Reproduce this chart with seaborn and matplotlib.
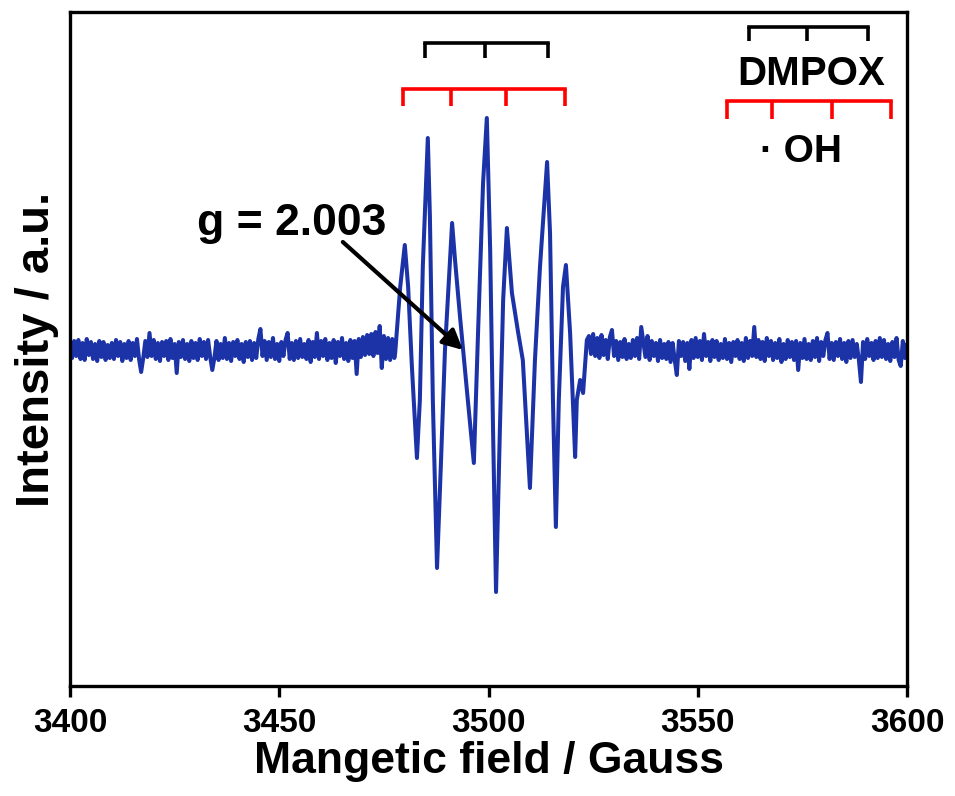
import numpy as np
import pandas as pd
import matplotlib
matplotlib.use('Agg')
import matplotlib.pyplot as plt
import seaborn as sns

step = 0.5
left_start = 3400.0
left_noise = [4, -8, 9, -6, 10, -9, 7, -10, 11, -5, 8, -9, 6, -11, 9, -7, 8, -10, 5, -8,
              7, -9, 10, -6, 8, -11, 6, -8, 9, -10, 7, -6, 11, -9, -22, -8, 9, -7, 17, -6,
              10, -9, 7, -11, 8, -6, 9, -10, 11, -8, 6, -23, 8, -7, 10, -9, 6, -11, 9, -8,
              7, -10, 11, -6, 8, -9, 10, -7, -20, -8, 9, -10, 6, -8, 12, -9, 7, -11, 8, -6,
              10, -9, 6, -12, 8, -7, 9, -10, 7, -8, 11, 21, -6, 9, -10, 8, -7, 12, -9, 6,
              -11, 8, -6, 10, 17, -9, 7, -10, 9, -8, 11, -7, 6, -9, 10, -12, 8, -7, 17, -9,
              9, -6, 11, -10, 7, -8, 10, -13, 8, -6, 12, -9, 7, -11, 10, -8, 9, -24, 11, -7,
              13, -5, 15, -4, 16, -6, 18, -3, 24, -18, 14, -9, 12, -10, 11, -8]

# the DMPOX / DMPO-OH signal region
signal_field = [3477.7, 3478.9, 3480.0, 3480.8, 3481.7, 3482.9, 3483.6, 3484.3, 3485.5,
                3486.0, 3486.7, 3487.7, 3488.6, 3489.6, 3491.3, 3492.0, 3493.2, 3494.9,
                3496.5, 3497.5, 3498.7, 3499.6, 3500.4, 3501.1, 3501.8, 3502.7, 3503.5,
                3504.4, 3505.6, 3507.1, 3508.2, 3509.9, 3511.1, 3512.3, 3514.0, 3514.7,
                3515.4, 3516.1, 3516.8, 3517.8, 3518.5, 3519.5, 3520.7, 3521.1, 3521.9,
                3522.6, 3523.5]
signal_int = [-3, 63, 105, 63, -17, -108, -50, 83, 212,
              133, -50, -218, -117, 0, 127, 90, 33, -43,
              -113, 17, 167, 232, 100, -83, -242, -83, 50,
              122, 57, 17, -10, -138, -10, 83, 188, 117,
              -50, -177, -50, 63, 85, 17, -107, -50, -30,
              -43, 10]

right_start = 3524.0
right_noise = [14, -4, 16, -6, 12, -8, 15, -5, 10, -9, 13, 20, -6, 9, -10, 8, -7, 11, -9, 6,
               -8, 10, -6, 12, -9, 23, 8, -7, 14, -10, 9, -6, 7, -11, 10, -8, 6, -9, 8, -12,
               7, -10, -25, 9, -6, 8, -11, 7, -19, 10, -8, 12, -7, 9, -10, 16, -6, 8, -11, 10,
               -7, 9, -10, 6, -8, 11, -9, 7, -12, 8, -6, 10, -9, 7, -11, 12, -8, 9, -6, 23,
               -7, 10, -9, 8, -11, 12, -6, 9, -10, 7, -8, 11, -12, 6, -9, 10, -7, 8, -10, 9,
               -20, 7, -8, 11, -9, 6, -10, 9, -7, 12, -11, 8, -6, 10, 17, -9, 7, -10, 8, -6,
               11, -9, 7, -12, 9, -8, 10, -7, 6, -10, -32, 8, -9, 11, -6, 7, -10, 9, -8, 12,
               -7, 10, -9, 6, -11, 8, -7, 12, -10, -16, 9, -8, 6]

# stick diagrams (line positions in G)
dmpox_center = [3484.8, 3499.2, 3514.2]
oh_center = [3479.6, 3491.0, 3504.2, 3518.3]
dmpox_key = [3562.2, 3576.1, 3590.7]
oh_key = [3557.0, 3567.7, 3582.1, 3596.2]

left_field = left_start + step * np.arange(len(left_noise))
right_field = right_start + step * np.arange(len(right_noise))
df = pd.DataFrame({
    'field': np.concatenate([left_field, signal_field, right_field]),
    'intensity': np.concatenate([left_noise, signal_int, right_noise]),
})

sns.set_style('ticks')
plt.rcParams['font.family'] = ['Liberation Sans', 'DejaVu Sans']
plt.rcParams['font.weight'] = 'bold'
plt.rcParams['text.color'] = 'black'
plt.rcParams['axes.labelcolor'] = 'black'
plt.rcParams['xtick.color'] = 'black'

fig = plt.figure(figsize=(9.55, 7.96), dpi=100)
ax = fig.add_axes([70 / 955, 110 / 796, 837 / 955, 674 / 796])

sns.lineplot(data=df, x='field', y='intensity', sort=False, color='#1c33a8',
             linewidth=2.9, ax=ax)


def stick(pos, y, drop, color):
    ax.plot([pos[0], pos[-1]], [y, y], color=color, lw=2.6, solid_capstyle='projecting')
    ax.vlines(pos, y - drop, y, color=color, lw=2.6)


stick(dmpox_center, 307, 15, 'black')
stick(oh_center, 261, 17, 'red')
stick(dmpox_key, 323, 14, 'black')
stick(oh_key, 249, 18, 'red')

ax.text(3577.1, 265, 'DMPOX', ha='center', va='baseline', fontsize=29, fontweight='bold')
ax.text(3574.7, 188, '\u00b7 OH', ha='center', va='baseline', fontsize=28, fontweight='bold')

ax.text(3453.0, 115, 'g = 2.003', ha='center', va='baseline', fontsize=32, fontweight='bold')
ax.annotate('', xy=(3493.9, 0), xytext=(3465.2, 108),
            arrowprops=dict(arrowstyle='-|>', lw=3, color='black',
                            mutation_scale=30, shrinkA=0, shrinkB=0))

ax.set_xlim(3400, 3600)
ax.set_ylim(-336, 338)
ax.set_xticks([3400, 3450, 3500, 3550, 3600])
ax.set_yticks([])
ax.tick_params(axis='x', direction='out', length=8, width=2.4, labelsize=24, pad=8,
               colors='black')
for lbl in ax.get_xticklabels():
    lbl.set_fontfamily(['Liberation Sans Narrow', 'Liberation Sans'])
    lbl.set_fontweight('bold')
for sp in ax.spines.values():
    sp.set_visible(True)
    sp.set_linewidth(2.4)
    sp.set_color('black')

ax.set_xlabel('Mangetic field / Gauss', fontsize=32, fontweight='bold', labelpad=1)
ax.set_ylabel('Intensity / a.u.', fontsize=34, fontweight='bold', labelpad=8)

fig.savefig('out.png', dpi=100)
